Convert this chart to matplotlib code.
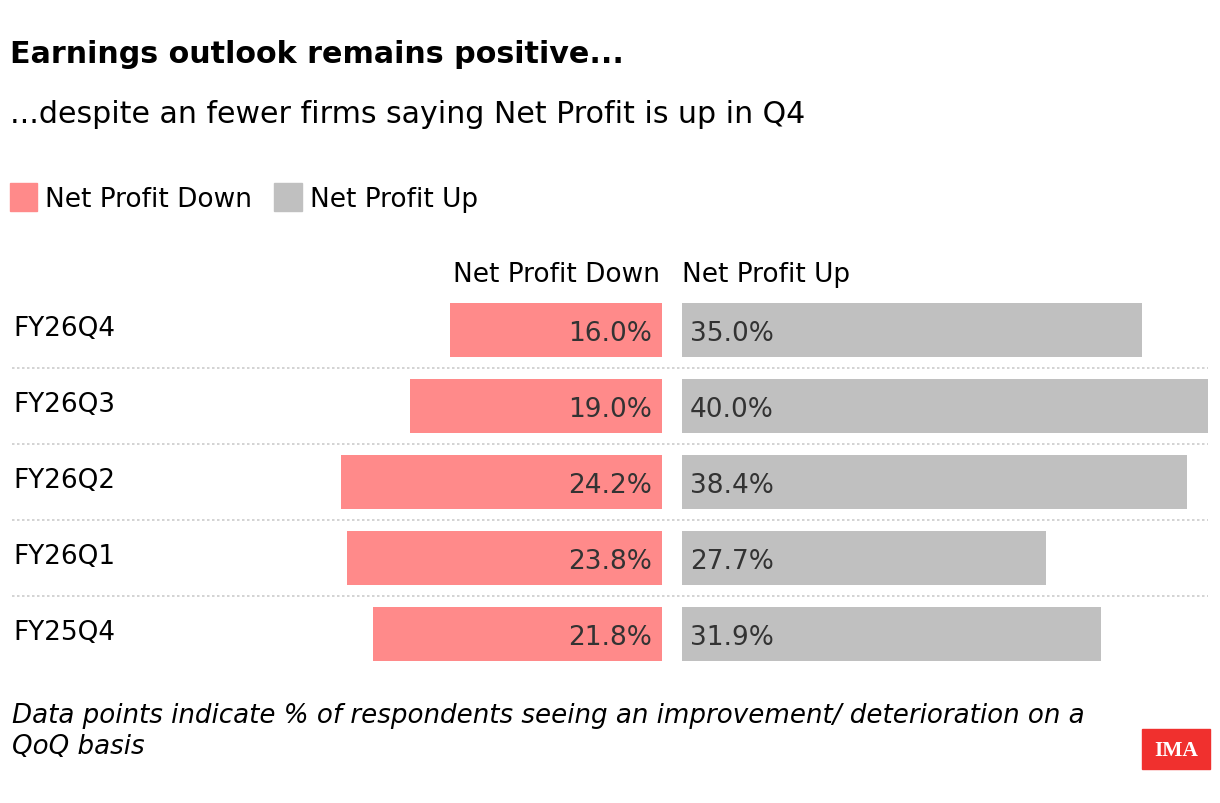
import matplotlib
matplotlib.use("Agg")
import matplotlib.pyplot as plt
import matplotlib.transforms as mtransforms
from matplotlib.patches import Rectangle

plt.rcParams['font.family'] = ['DejaVu Sans']

# data
quarters = ['FY26Q4', 'FY26Q3', 'FY26Q2', 'FY26Q1', 'FY25Q4']
profit_down = [16.0, 19.0, 24.2, 23.8, 21.8]
profit_up = [35.0, 40.0, 38.4, 27.7, 31.9]

PINK = '#ff8a8a'
GREY = '#c0c0c0'
TXT = '#333333'

W, H = 1220, 804
fig = plt.figure(figsize=(W / 100, H / 100), dpi=100)


def fx(px):
    return px / W


def fy(py):
    return 1 - py / H


def add_axes_px(x0, y0, x1, y1):
    return fig.add_axes([fx(x0), fy(y1), fx(x1) - fx(x0), fy(y0) - fy(y1)])


# header texts
fig.text(fx(10), fy(63), 'Earnings outlook remains positive...', fontsize=21.7,
         fontweight='bold', va='baseline', ha='left')
fig.text(fx(10), fy(123), '...despite an fewer firms saying Net Profit is up in Q4',
         fontsize=21.6, va='baseline', ha='left')

# legend
fig.patches.append(Rectangle((fx(10), fy(212)), fx(27), 28 / H, color=PINK,
                             transform=fig.transFigure))
fig.text(fx(45), fy(207), 'Net Profit Down', fontsize=19, va='baseline')
fig.patches.append(Rectangle((fx(274), fy(212)), fx(28), 28 / H, color=GREY,
                             transform=fig.transFigure))
fig.text(fx(310), fy(207), 'Net Profit Up', fontsize=19, va='baseline')

# column headers
fig.text(fx(660), fy(282), 'Net Profit Down', fontsize=19, va='baseline', ha='right')
fig.text(fx(682), fy(282), 'Net Profit Up', fontsize=19, va='baseline', ha='left')

n = len(quarters)
pos = list(range(n))

ax_l = add_axes_px(300, 293, 662, 673)
ax_r = add_axes_px(682, 293, 1208, 673)

ax_l.barh(pos, profit_down, height=0.71, color=PINK)
ax_r.barh(pos, profit_up, height=0.71, color=GREY)
ax_l.set_xlim(362 / 13.25, 0)
ax_r.set_xlim(0, 40)

for ax in (ax_l, ax_r):
    ax.set_ylim(n - 0.5, -0.5)
    ax.axis('off')

for i in pos:
    ax_l.text(0.75, i + 0.135, f'{profit_down[i]:.1f}%', ha='right', va='baseline',
              fontsize=19, color=TXT)
    ax_r.text(0.6, i + 0.135, f'{profit_up[i]:.1f}%', ha='left', va='baseline',
              fontsize=19, color=TXT)

# row labels and dotted separators
trans = mtransforms.blended_transform_factory(fig.transFigure, ax_l.transData)
for i in pos:
    fig.text(fx(13), i + 0.065, quarters[i], transform=trans, fontsize=18.9,
             va='baseline', ha='left', color='black')
for i in pos[:-1]:
    fig.add_artist(plt.Line2D([fx(12), fx(1208)], [i + 0.5, i + 0.5], transform=trans,
                              color='#cccccc', lw=1.2, linestyle=(0, (1.5, 1.5))))

# footnote
fig.text(fx(12), fy(723),
         'Data points indicate % of respondents seeing an improvement/ deterioration on a',
         fontsize=18.85, style='italic', va='baseline')
fig.text(fx(12), fy(754), 'QoQ basis', fontsize=18.85, style='italic', va='baseline')

# logo
fig.patches.append(Rectangle((fx(1142), fy(770)), fx(68), 40 / H, color='#f0302e',
                             transform=fig.transFigure))
fig.text(fx(1176), fy(751), 'IMA', color='white', fontsize=15.5, fontweight='bold',
         family='Liberation Serif', ha='center', va='center')

fig.savefig('out.png', dpi=100)
